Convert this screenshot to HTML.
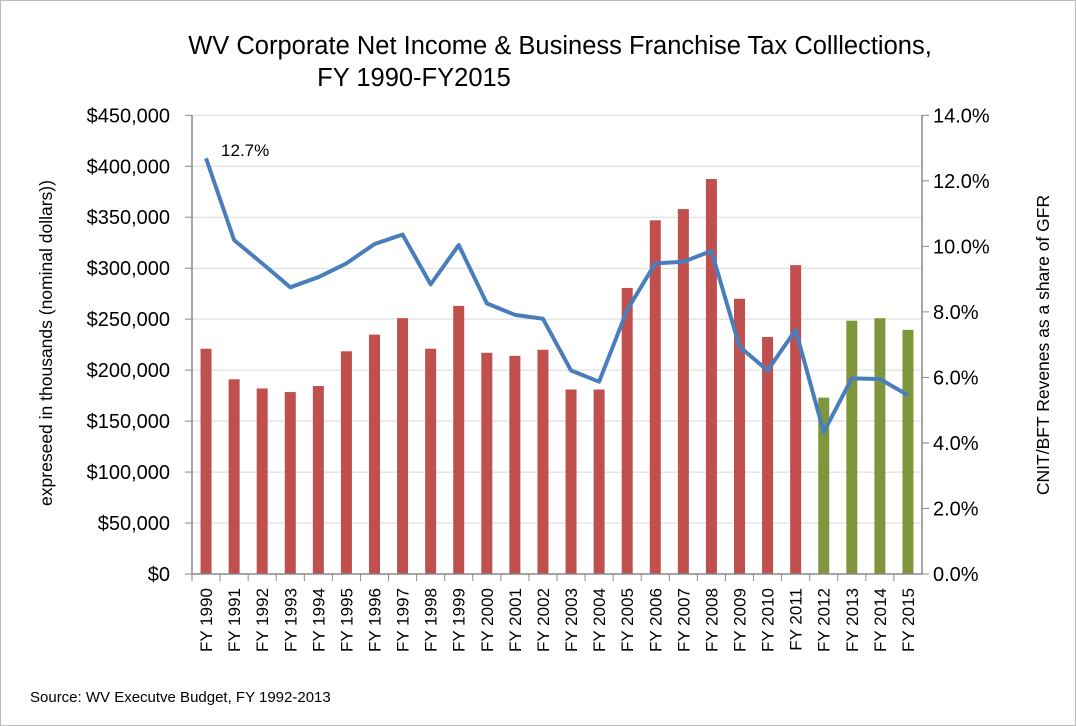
<!DOCTYPE html>
<html><head><meta charset="utf-8"><style>
body{margin:0;background:#fff}
svg{display:block;font-family:"Liberation Sans",Arial,sans-serif}
</style></head><body>
<svg id="c" width="1076" height="726" viewBox="0 0 1076 726">
<rect x="0.5" y="0.5" width="1075" height="725" fill="#fff" stroke="#bbb"/>
<text x="560" y="54" font-size="25.5" text-anchor="middle" fill="#000">WV Corporate Net Income &amp; Business Franchise Tax Colllections,</text>
<text x="414" y="86" font-size="25.5" text-anchor="middle" fill="#000">FY 1990-FY2015</text>
<text transform="translate(52,343) rotate(-90)" font-size="17.5" text-anchor="middle">expreseed in thousands (nominal dollars))</text>
<text transform="translate(1049,345) rotate(-90)" font-size="17.5" text-anchor="middle">CNIT/BFT Revenes as a share of GFR</text>
<text x="30" y="702" font-size="15">Source: WV Executve Budget, FY 1992-2013</text>
<g id="grid"></g><g id="bars"></g><g id="axes"></g><g id="line"></g>
</svg>
<script>
const categories=["FY 1990","FY 1991","FY 1992","FY 1993","FY 1994","FY 1995","FY 1996","FY 1997","FY 1998","FY 1999","FY 2000","FY 2001","FY 2002","FY 2003","FY 2004","FY 2005","FY 2006","FY 2007","FY 2008","FY 2009","FY 2010","FY 2011","FY 2012","FY 2013","FY 2014","FY 2015"];
const collections=[221,191,182,178.5,184.4,218.5,234.8,251,221,263,217,214,220,181,181,280.6,347,358,387.5,270,232.5,303,173,248.5,251,239.5];
const projected=[false,false,false,false,false,false,false,false,false,false,false,false,false,false,false,false,false,false,false,false,false,false,true,true,true,true];
const sharePct=[12.69,10.19,9.48,8.75,9.06,9.48,10.07,10.36,8.84,10.04,8.26,7.91,7.79,6.21,5.87,8.06,9.48,9.53,9.86,6.94,6.21,7.45,4.33,5.97,5.95,5.46];
const leftTicks=[0,50,100,150,200,250,300,350,400,450];
const rightTicks=[0,2,4,6,8,10,12,14];
const X0=192,X1=922,Y0=574,Y1=115.3;
const bw=(X1-X0)/categories.length;
const yL=v=>Y0-(v/450)*(Y0-Y1);
const yR=v=>Y0-(v/14)*(Y0-Y1);
const xC=i=>X0+bw*(i+0.5);
const NS="http://www.w3.org/2000/svg";
function mk(t,a,p,txt){const e=document.createElementNS(NS,t);for(const k in a)e.setAttribute(k,a[k]);if(txt!==undefined)e.textContent=txt;p.appendChild(e);return e;}
const G=document.getElementById('grid'),B=document.getElementById('bars'),A=document.getElementById('axes'),L=document.getElementById('line');
leftTicks.forEach(v=>{
 const y=yL(v);
 if(v>0){const g=mk('line',{x1:X0,x2:X1,y1:y,y2:y,stroke:'#d9d9d9','stroke-width':1},G);
 
 }
 const tk=mk('line',{x1:X0-7,x2:X0,y1:y,y2:y,stroke:'#888'},A);
 
 
 const t=mk('text',{x:170,y:y+7,'font-size':20,'text-anchor':'end'},A,'$'+(v===0?'0':v+',000'));
 
 
});
rightTicks.forEach(v=>{
 const y=yR(v);
 const tk=mk('line',{x1:X1,x2:X1+7,y1:y,y2:y,stroke:'#888'},A);
 
 
 const t=mk('text',{x:933,y:y+7,'font-size':20},A,v.toFixed(1)+'%');
 
 
});
collections.forEach((v,i)=>{
 const r=mk('rect',{x:xC(i)-5.5,y:yL(v),width:11,height:Y0-yL(v),fill:projected[i]?'#7F963D':'#C0504D'},B);
 
 
});
const ax=mk('path',{d:`M${X0},${Y1}V${Y0}H${X1}V${Y1}`,fill:'none',stroke:'#888','stroke-width':1.5},A);


categories.forEach((c,i)=>{
 const tk=mk('line',{x1:X0+bw*i,x2:X0+bw*i,y1:Y0,y2:Y0+7,stroke:'#888'},A);
 
 
 const t=mk('text',{transform:`translate(${xC(i)+6},588) rotate(-90)`,'font-size':17,'text-anchor':'end'},A,c);
 
 
});
const pl=mk('polyline',{points:sharePct.map((v,i)=>xC(i)+','+yR(v)).join(' '),fill:'none',stroke:'#4A7EBB','stroke-width':4,'stroke-linejoin':'round'},L);


const lab=mk('text',{x:xC(0)+15,y:yR(sharePct[0])-2,'font-size':17},L,sharePct[0].toFixed(1)+'%');


</script>
</body></html>
